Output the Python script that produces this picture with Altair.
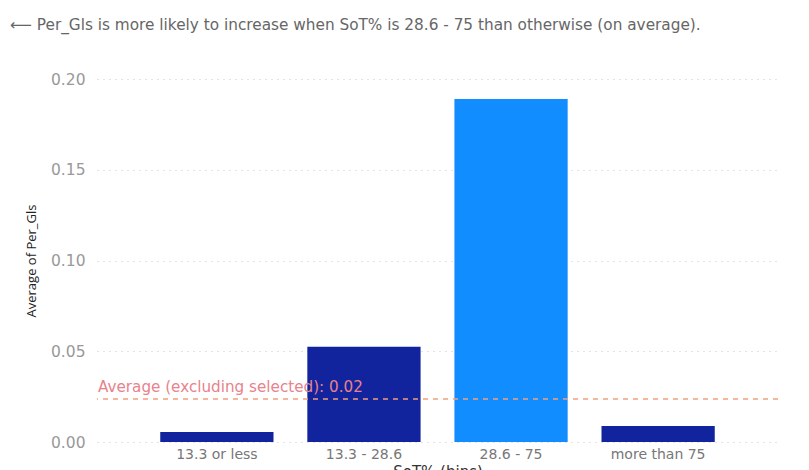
import altair as alt
import pandas as pd

# SoT% bins and the average Per_Gls in each
bins = ["13.3 or less", "13.3 - 28.6", "28.6 - 75", "more than 75"]
avg_per_gls = [0.0055, 0.0525, 0.189, 0.0088]
selected = [False, False, True, False]
avg_excluding_selected = 0.0237

FONT = "DejaVu Sans"
TITLE_FONT = "Open Sans"

df = pd.DataFrame({"bin": bins, "value": avg_per_gls, "selected": selected})
ref = pd.DataFrame({"avg": [avg_excluding_selected],
                    "label": ["Average (excluding selected): 0.02"]})

bars = alt.Chart(df).mark_bar().encode(
    x=alt.X("bin:N", sort=bins, title="SoT% (bins)",
            scale=alt.Scale(paddingInner=0.23, paddingOuter=0.43),
            axis=alt.Axis(labelAngle=0, domain=False, ticks=False, labelPadding=5,
                          labelColor="#777777", labelFontSize=14, labelFont=FONT,
                          titleFont=FONT, titleFontSize=15, titleFontWeight="normal",
                          titleColor="#333333", titlePadding=3)),
    y=alt.Y("value:Q", title="Average of Per_Gls",
            scale=alt.Scale(domain=[0, 0.2], nice=False),
            axis=alt.Axis(values=[0, 0.05, 0.1, 0.15, 0.2], format=".2f",
                          domain=False, ticks=False, labelPadding=12,
                          labelColor="#999999", labelFontSize=15.5, labelFont=FONT,
                          grid=True, gridColor="#c8c8c8", gridDash=[1, 5],
                          titleFont=TITLE_FONT, titleFontSize=13, titleFontWeight="normal",
                          titleColor="#222222", titlePadding=12)),
    color=alt.Color("selected:N", legend=None,
                    scale=alt.Scale(domain=[False, True], range=["#12239E", "#118DFF"])),
)

rule = alt.Chart(ref).mark_rule(color="#F0A07E", strokeDash=[5, 5], strokeWidth=1.5).encode(
    y="avg:Q"
)

rule_label = alt.Chart(ref).mark_text(
    align="left", baseline="bottom", dx=0, dy=-4, fontSize=15.2, font=FONT, color="#E8828C"
).encode(
    x=alt.value(1),
    y="avg:Q",
    text="label:N",
)

chart = alt.layer(bars, rule, rule_label).properties(
    width=681,
    height=363,
    padding={"left": 97, "top": 79, "right": 31, "bottom": 28},
    autosize=alt.AutoSizeParams(type="none"),
    title=alt.TitleParams(
        text="⟵   Per_Gls is more likely to increase when SoT% is 28.6 - 75 than otherwise (on average).",
        anchor="start", frame="group", dx=-87, offset=39, font=FONT, fontSize=15.3,
        fontWeight="normal", color="#666666",
    ),
).configure(background="white").configure_view(stroke=None, strokeWidth=0)

chart.save("out.html", embed_options={"renderer": "svg", "actions": False})
